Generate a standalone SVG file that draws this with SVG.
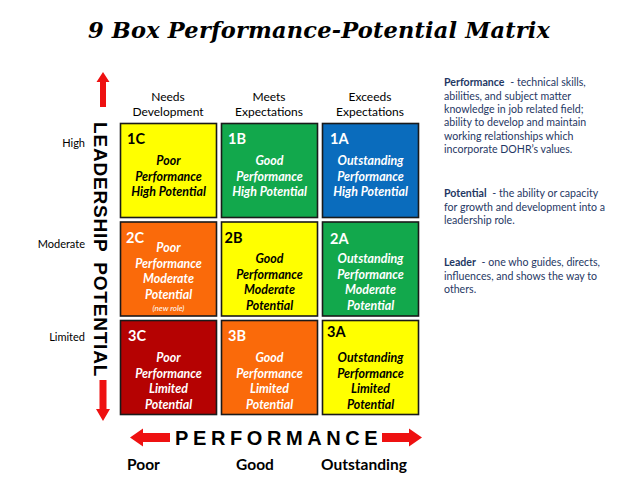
<svg xmlns="http://www.w3.org/2000/svg" width="638" height="493" viewBox="0 0 638 493">
<style>
.cell{stroke:#1a1a1a;stroke-width:1.6}
.num{font-family:Lato,"Open Sans",sans-serif;font-weight:bold;font-size:14.5px}
.lbl{font-family:Lato,"Open Sans",sans-serif;font-weight:bold;font-style:italic;font-size:12.4px;text-anchor:middle}
.small{font-family:Lato,"Open Sans",sans-serif;font-style:italic;font-size:8px;text-anchor:middle}
.hdr{font-family:Lato,"Open Sans",sans-serif;font-size:12px;text-anchor:middle;fill:#000}
.row{font-family:Lato,"Open Sans",sans-serif;font-size:11px;text-anchor:end;fill:#000}
.w{fill:#fff}
.k{fill:#000}
.def{font-family:Lato,"Open Sans",sans-serif;font-size:10.6px;fill:#1f3864}
.axis{font-family:"Liberation Sans",Arial,sans-serif;font-weight:bold;fill:#000}
.perf{font-family:Lato,"Open Sans",sans-serif;font-weight:bold;font-size:15.5px;fill:#000;text-anchor:middle}
.arrow{fill:#ee1111}
</style>
<rect width="638" height="493" fill="#fff"/>
<text x="319" y="38" text-anchor="middle" font-family="'DejaVu Serif','Liberation Serif',serif" font-weight="bold" font-style="italic" font-size="22.5" textLength="462" lengthAdjust="spacing">9 Box Performance-Potential Matrix</text>

<g id="headers">
<text class="hdr" x="168" y="101">Needs</text>
<text class="hdr" x="168" y="116">Development</text>
<text class="hdr" x="269" y="101">Meets</text>
<text class="hdr" x="269" y="116">Expectations</text>
<text class="hdr" x="370" y="101">Exceeds</text>
<text class="hdr" x="370" y="116">Expectations</text>
</g>

<g id="row-labels">
<text class="row" x="85" y="147">High</text>
<text class="row" x="85" y="248">Moderate</text>
<text class="row" x="85" y="341">Limited</text>
</g>

<g id="cell-1C">
<rect class="cell" x="120.5" y="123.5" width="96" height="94" fill="#ffff00"/>
<text class="num k" x="127" y="144">1C</text>
<text class="lbl k" x="168.5" y="165">Poor</text>
<text class="lbl k" x="168.5" y="180.5">Performance</text>
<text class="lbl k" x="168.5" y="196">High Potential</text>
</g>
<g id="cell-1B">
<rect class="cell" x="221.5" y="123.5" width="96" height="94" fill="#12a84c"/>
<text class="num w" x="228" y="144">1B</text>
<text class="lbl w" x="269.5" y="165">Good</text>
<text class="lbl w" x="269.5" y="180.5">Performance</text>
<text class="lbl w" x="269.5" y="196">High Potential</text>
</g>
<g id="cell-1A">
<rect class="cell" x="322.5" y="123.5" width="96" height="94" fill="#0a6cbd"/>
<text class="num w" x="330" y="144">1A</text>
<text class="lbl w" x="370.5" y="165">Outstanding</text>
<text class="lbl w" x="370.5" y="180.5">Performance</text>
<text class="lbl w" x="370.5" y="196">High Potential</text>
</g>

<g id="cell-2C">
<rect class="cell" x="120.5" y="222" width="96" height="94" fill="#fa6a0a"/>
<text class="num w" x="126" y="243">2C</text>
<text class="lbl w" x="168.5" y="252">Poor</text>
<text class="lbl w" x="168.5" y="267.5">Performance</text>
<text class="lbl w" x="168.5" y="283">Moderate</text>
<text class="lbl w" x="168.5" y="298.5">Potential</text>
<text class="small w" x="168.5" y="311">(new role)</text>
</g>
<g id="cell-2B">
<rect class="cell" x="221.5" y="222" width="96" height="94" fill="#ffff00"/>
<text class="num k" x="224.5" y="243">2B</text>
<text class="lbl k" x="269.5" y="263">Good</text>
<text class="lbl k" x="269.5" y="278.5">Performance</text>
<text class="lbl k" x="269.5" y="294">Moderate</text>
<text class="lbl k" x="269.5" y="309.5">Potential</text>
</g>
<g id="cell-2A">
<rect class="cell" x="322.5" y="222" width="96" height="94" fill="#12a84c"/>
<text class="num w" x="330" y="244">2A</text>
<text class="lbl w" x="370.5" y="263">Outstanding</text>
<text class="lbl w" x="370.5" y="278.5">Performance</text>
<text class="lbl w" x="370.5" y="294">Moderate</text>
<text class="lbl w" x="370.5" y="309.5">Potential</text>
</g>

<g id="cell-3C">
<rect class="cell" x="120.5" y="320.5" width="96" height="94" fill="#b50202"/>
<text class="num w" x="128" y="341">3C</text>
<text class="lbl w" x="168.5" y="362">Poor</text>
<text class="lbl w" x="168.5" y="377.5">Performance</text>
<text class="lbl w" x="168.5" y="393">Limited</text>
<text class="lbl w" x="168.5" y="408.5">Potential</text>
</g>
<g id="cell-3B">
<rect class="cell" x="221.5" y="320.5" width="96" height="94" fill="#fa6a0a"/>
<text class="num w" x="228" y="341">3B</text>
<text class="lbl w" x="269.5" y="362">Good</text>
<text class="lbl w" x="269.5" y="377.5">Performance</text>
<text class="lbl w" x="269.5" y="393">Limited</text>
<text class="lbl w" x="269.5" y="408.5">Potential</text>
</g>
<g id="cell-3A">
<rect class="cell" x="322.5" y="320.5" width="96" height="94" fill="#ffff00"/>
<text class="num k" x="327" y="337">3A</text>
<text class="lbl k" x="370.5" y="362">Outstanding</text>
<text class="lbl k" x="370.5" y="377.5">Performance</text>
<text class="lbl k" x="370.5" y="393">Limited</text>
<text class="lbl k" x="370.5" y="408.5">Potential</text>
</g>

<g id="connectors">
<polygon class="arrow" points="103,72 109.5,82 106,82 106,107 100,107 100,82 96.5,82"/>
<polygon class="arrow" points="103,421 110,409 106.5,409 106.5,380 99.5,380 99.5,409 96,409"/>
<polygon class="arrow" points="130,437.5 143,428.5 143,433 170,433 170,442 143,442 143,446.5"/>
<polygon class="arrow" points="422,437.5 409,428.5 409,433 382,433 382,442 409,442 409,446.5"/>
</g>

<g id="axis-labels">
<text class="axis" font-size="19" letter-spacing="0.8" word-spacing="4" transform="translate(94,122) rotate(90)">LEADERSHIP POTENTIAL</text>
<text class="axis" font-size="20" letter-spacing="4.6" x="175" y="445">PERFORMANCE</text>
<text class="perf" x="143.5" y="469.5">Poor</text>
<text class="perf" x="255" y="469.5">Good</text>
<text class="perf" x="364" y="469.5">Outstanding</text>
</g>

<g id="definitions">
<text class="def" x="444" y="86"><tspan font-weight="bold">Performance</tspan><tspan dx="3"> - technical skills,</tspan></text>
<text class="def" x="444" y="99.5">abilities, and subject matter</text>
<text class="def" x="444" y="112.5">knowledge in job related field;</text>
<text class="def" x="444" y="126">ability to develop and maintain</text>
<text class="def" x="444" y="139.5">working relationships which</text>
<text class="def" x="444" y="152.5">incorporate DOHR’s values.</text>
<text class="def" x="444" y="197"><tspan font-weight="bold">Potential</tspan><tspan dx="3"> - the ability or capacity</tspan></text>
<text class="def" x="444" y="210.5">for growth and development into a</text>
<text class="def" x="444" y="224">leadership role.</text>
<text class="def" x="444" y="266"><tspan font-weight="bold">Leader</tspan><tspan dx="3"> - one who guides, directs,</tspan></text>
<text class="def" x="444" y="279.5">influences, and shows the way to</text>
<text class="def" x="444" y="293">others.</text>
</g>
</svg>
